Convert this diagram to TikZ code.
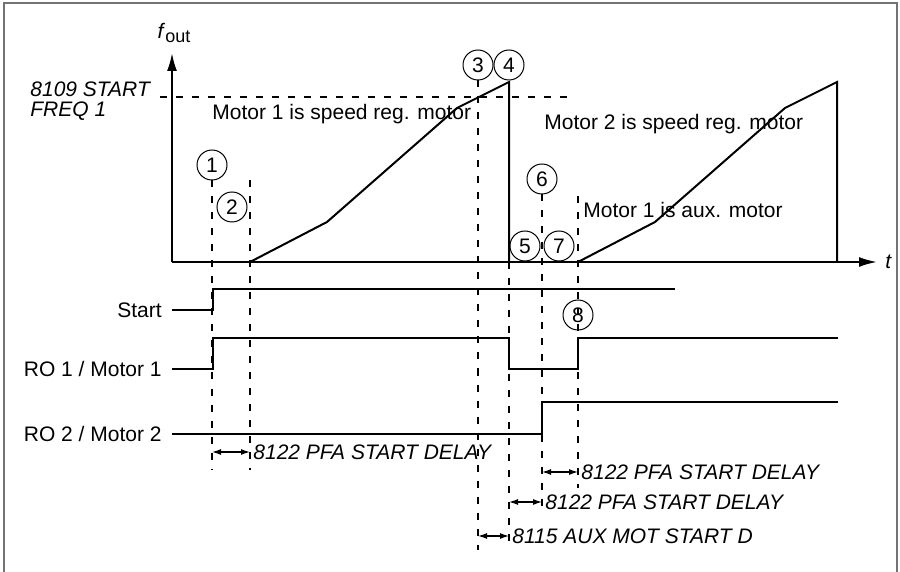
\documentclass[tikz,border=0pt]{standalone}
\usepackage{fontspec}
\setmainfont{Liberation Sans}
\usetikzlibrary{arrows.meta,positioning}
\tikzstyle{num}=[circle,draw,line width=0.5pt,minimum size=15pt,inner sep=0pt,font=\fontsize{10.5}{12}\selectfont]
\tikzstyle{txt}=[inner sep=0pt,font=\fontsize{10.5}{12}\selectfont]
\tikzstyle{par}=[inner sep=0pt,font=\fontsize{10.5}{10}\selectfont\itshape]
\tikzstyle{sig}=[line width=1pt]
\tikzstyle{guide}=[line width=1pt,dash pattern=on 3.5pt off 4.5pt]
\tikzstyle{dim}=[{Latex[length=4.5pt,width=3pt]}-{Latex[length=4.5pt,width=3pt]},line width=0.6pt]
\tikzstyle{axis}=[-{Latex[length=9pt,width=5pt]},line width=1pt]

\begin{document}
\begin{tikzpicture}[x=0.5pt,y=-0.5pt]
\useasboundingbox (0,0) rectangle (900,572);
\draw[black!55,line width=1pt] (4,3) rectangle (897,600);
% axes
\coordinate (O) at (172,262);
\coordinate (ytip) at (172,53);
\coordinate (xtip) at (877,262);
\draw[axis] (O) -- (ytip);
\draw[axis] (O) -- (xtip);
\node[txt] (fout) at (174,33) {\textit{f}\raisebox{-0.4ex}{\fontsize{9}{10}\selectfont out}};
\node[par,right=4pt of xtip] (tlab) {t};
% start frequency level
\coordinate (fa) at (160,97);
\coordinate (fb) at (570,97);
\draw[guide] (fa) -- (fb);
\node[par,align=left,anchor=north west] (sfreq) at (30,81) {8109 START\\FREQ 1};
% frequency ramps
\draw[sig] (250,262) -- (327,222) -- (457,108) -- (509,82) -- (509,262);
\draw[sig] (578,262) -- (655,222) -- (785,108) -- (837,82) -- (837,262);
\node[txt,anchor=west] (m1reg) at (212,114) {Motor 1 is speed reg. motor};
\node[txt,anchor=west] (m2reg) at (544,124) {Motor 2 is speed reg. motor};
\node[txt,anchor=west] (m1aux) at (583,210) {Motor 1 is aux. motor};
% signals
\coordinate (st0) at (172,310);
\node[txt,left=5pt of st0] (start) {Start};
\draw[sig] (st0) -- (213,310) -- (213,289) -- (675,289);
\coordinate (ro1) at (172,369);
\node[txt,left=5pt of ro1] (lro1) {RO 1 / Motor 1};
\draw[sig] (ro1) -- (213,369) -- (213,338) -- (509,338) -- (509,369) -- (578,369) -- (578,338) -- (838,338);
\coordinate (ro2) at (172,434);
\node[txt,left=5pt of ro2] (lro2) {RO 2 / Motor 2};
\draw[sig] (ro2) -- (542,434) -- (542,402) -- (838,402);
% event markers
\node[num] (c1) at (212,165) {1};
\node[num] (c2) at (232,207) {2};
\node[num] (c3) at (478,65) {3};
\node[num] (c4) at (509,65) {4};
\node[num] (c5) at (525,246) {5};
\node[num] (c6) at (542,179) {6};
\node[num] (c7) at (559,246) {7};
\node[num] (c8) at (578,315) {8};
\coordinate (g1) at (212,470);
\coordinate (g2a) at (250,180);
\coordinate (g2) at (250,470);
\coordinate (g3) at (478,550);
\coordinate (g4a) at (509,262);
\coordinate (g4) at (509,548);
\coordinate (g6) at (542,510);
\coordinate (g8a) at (578,196);
\coordinate (g8) at (578,488);
\draw[guide] (c1) -- (g1);
\draw[guide] (g2a) -- (g2);
\draw[guide] (c3) -- (g3);
\draw[guide] (g4a) -- (g4);
\draw[guide] (c6) -- (g6);
\draw[guide] (g8a) -- (g8);
% delays
\coordinate (d1a) at (212,452);
\coordinate (d1b) at (250,452);
\coordinate (d2a) at (542,472);
\coordinate (d2b) at (578,472);
\coordinate (d3a) at (509,502);
\coordinate (d3b) at (542,502);
\coordinate (d4a) at (478,536);
\coordinate (d4b) at (509,536);
\draw[dim] (d1a) -- (d1b);
\draw[dim] (d2a) -- (d2b);
\draw[dim] (d3a) -- (d3b);
\draw[dim] (d4a) -- (d4b);
\node[par,right=1.5pt of d1b] (pd1) {8122 PFA START DELAY};
\node[par,right=1.5pt of d2b] (pd2) {8122 PFA START DELAY};
\node[par,right=1.5pt of d3b] (pd3) {8122 PFA START DELAY};
\node[par,right=1.5pt of d4b] (pd4) {8115 AUX MOT START D};
\end{tikzpicture}
\end{document}
